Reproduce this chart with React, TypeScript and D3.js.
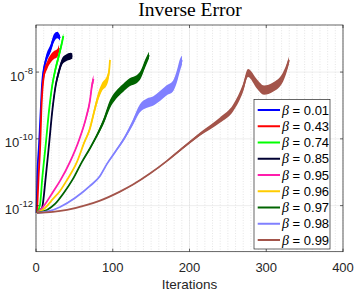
import * as d3 from 'd3';
import React from 'react';

// each point: [iteration, log10(error), half-spread of the noisy band in decades]
const s001 = [[0.7,-12.22,0],[1.7,-11.17,0.03],[3.9,-10.19,0.06],[6.1,-9.17,0.1],[8.2,-8.27,0.12],[12.6,-7.67,0.12],[19.2,-7.28,0.12],[23.5,-6.98,0.12],[27.8,-6.89,0.1],[31.3,-6.98,0.08]];
const s043 = [[1.3,-12.22,0],[3.3,-11.17,0.03],[5.5,-10.19,0.06],[6.9,-9.17,0.1],[10.4,-8.09,0.12],[14.7,-7.79,0.12],[23.5,-7.49,0.12],[27.8,-7.43,0.12],[30,-7.28,0.1]];
const s074 = [[1.3,-12.22,0],[5.2,-11.98,0.01],[8.2,-11.17,0.03],[12.6,-10.19,0.05],[16.9,-9.17,0.08],[21.2,-8.39,0.1],[25.7,-7.88,0.1],[30,-7.49,0.1],[34.3,-7.07,0.1],[35.6,-6.92,0.08]];
const s085 = [[1.3,-12.22,0],[7.8,-12.07,0.01],[12.6,-11.17,0.03],[16.9,-10.19,0.05],[21.2,-9.17,0.08],[25.7,-8.39,0.1],[30,-7.97,0.1],[34.3,-7.67,0.1],[38.7,-7.58,0.1],[45.2,-7.52,0.1],[47.3,-7.52,0.08]];
const s095 = [[1.3,-12.22,0],[9.1,-12.04,0],[22.1,-11.59,0],[31.3,-11.26,0.01],[44.3,-10.69,0.02],[56,-10.04,0.03],[65.1,-9.38,0.06],[70.4,-8.84,0.09],[73,-8.39,0.12],[74.9,-8.21,0.12]];
const s096 = [[1.3,-12.22,0],[11.7,-12.07,0],[22.1,-11.8,0],[31.3,-11.56,0.01],[40.4,-11.23,0.01],[53.4,-10.69,0.02],[62.5,-10.13,0.04],[70.4,-9.68,0.07],[75.6,-9.2,0.1],[80.8,-8.75,0.12],[86,-8.45,0.12],[92.5,-8.24,0.14],[95.1,-8.0,0.14],[96.4,-7.64,0.1]];
const s097 = [[1.3,-12.22,0],[14.3,-12.13,0],[24.8,-11.95,0],[35.2,-11.65,0.01],[48.2,-11.2,0.01],[59.9,-10.69,0.02],[70.4,-10.28,0.03],[80.8,-9.83,0.06],[88.6,-9.44,0.09],[96.4,-8.96,0.12],[104.2,-8.69,0.12],[113.4,-8.48,0.12],[122.5,-8.3,0.12],[131.6,-8.21,0.12],[136.8,-8.06,0.12],[142,-7.76,0.12],[147.2,-7.49,0.1]];
const s098 = [[1.3,-12.22,0],[18.2,-12.16,0],[31.3,-12.04,0],[50.8,-11.77,0.01],[70.4,-11.41,0.01],[83.4,-11.11,0.02],[92.5,-10.75,0.02],[102.9,-10.4,0.03],[115.9,-9.95,0.05],[125.1,-9.56,0.08],[135.5,-9.08,0.12],[144.6,-8.93,0.14],[152.4,-8.87,0.14],[161.5,-8.72,0.15],[170.7,-8.54,0.15],[178.5,-8.42,0.16],[183.7,-8.12,0.18],[187.6,-7.79,0.18],[190.2,-7.64,0.14]];
const s099 = [[1.3,-12.22,0],[22.1,-12.19,0],[40.4,-12.13,0],[66.4,-11.98,0],[83.4,-11.85,0],[109.4,-11.58,0.01],[126.4,-11.37,0.01],[148.5,-11.04,0.015],[170.7,-10.66,0.02],[187.6,-10.34,0.03],[213.7,-9.86,0.05],[239.7,-9.44,0.08],[256.7,-9.08,0.1],[269.7,-8.48,0.12],[276.2,-8.03,0.12],[288,-8.36,0.14],[297.1,-8.54,0.14],[308.8,-8.45,0.14],[321.8,-8.15,0.14],[327,-7.85,0.12],[329.6,-7.64,0.1]];

const series = [s001, s043, s074, s085, s095, s096, s097, s098, s099];
const betas = ['0.01', '0.43', '0.74', '0.85', '0.95', '0.96', '0.97', '0.98', '0.99'];
const colors = ['#0000ff', '#ff0000', '#00ff00', '#000033', '#ff1dac', '#ffcc00', '#006400', '#8080ff', '#a3544a'];

const xTicks = [0, 100, 200, 300, 400];
const xMinor = d3.range(0, 401, 10);
const yTicks = [-12, -10, -8];

const W = 354, H = 293;
const L = 36, R = 343, T = 25, B = 251.7;

export default function App() {
  const x = d3.scaleLinear().domain([0, 400]).range([L, R]);
  const y = d3.scaleLog().domain([Math.pow(10, -13.38), Math.pow(10, -6.59)]).range([B, T]);

  const line = d3.line<number[]>()
    .x(d => x(d[0]))
    .y(d => y(Math.pow(10, d[1])))
    .curve(d3.curveMonotoneX);
  const band = d3.area<number[]>()
    .x(d => x(d[0]))
    .y0(d => y(Math.pow(10, d[1] - d[2])))
    .y1(d => y(Math.pow(10, d[1] + d[2])))
    .curve(d3.curveMonotoneX);

  const axisCol = '#262626';
  const sans = 'Liberation Sans, Arial, sans-serif';

  return (
    <div style={{position: 'fixed', left: 0, top: 0}}>
      <svg width={W} height={H} style={{display: 'block', background: '#fff'}}>
        {/* grid */}
        {xMinor.map(t => (
          <line key={'xm' + t} x1={x(t)} x2={x(t)} y1={T} y2={B}
            stroke="#d4d4d4" strokeWidth={0.6} strokeDasharray="1,1.6" />
        ))}
        {xTicks.map(t => (
          <line key={'xg' + t} x1={x(t)} x2={x(t)} y1={T} y2={B} stroke="#e2e2e2" strokeWidth={0.6} />
        ))}
        {yTicks.map(t => (
          <line key={'yg' + t} x1={L} x2={R} y1={y(Math.pow(10, t))} y2={y(Math.pow(10, t))}
            stroke="#e2e2e2" strokeWidth={0.6} />
        ))}

        {/* data */}
        <g>
          {series.map((s, i) => (
            <g key={betas[i]}>
              <path d={band(s) || ''} fill={colors[i]} stroke="none" />
              <path d={line(s) || ''} fill="none" stroke={colors[i]} strokeWidth={1.8} strokeLinejoin="round" />
            </g>
          ))}
        </g>

        {/* axes box and ticks */}
        <rect x={L} y={T} width={R - L} height={B - T} fill="none" stroke={axisCol} strokeWidth={0.7} />
        {xTicks.map(t => (
          <g key={'xt' + t}>
            <line x1={x(t)} x2={x(t)} y1={B} y2={B - 3} stroke={axisCol} strokeWidth={0.7} />
            <line x1={x(t)} x2={x(t)} y1={T} y2={T + 3} stroke={axisCol} strokeWidth={0.7} />
            <text x={x(t)} y={271.5} textAnchor="middle" fontFamily={sans} fontSize={13} fill={axisCol}>{t}</text>
          </g>
        ))}
        {yTicks.map(t => {
          const yy = y(Math.pow(10, t));
          return (
            <g key={'yt' + t}>
              <line x1={L} x2={L + 3} y1={yy} y2={yy} stroke={axisCol} strokeWidth={0.7} />
              <line x1={R} x2={R - 3} y1={yy} y2={yy} stroke={axisCol} strokeWidth={0.7} />
              <text x={33} y={yy + 8.5} textAnchor="end" fontFamily={sans} fontSize={13} fill={axisCol}>
                10<tspan dy={-7} fontSize={9.5}>{'-' + Math.abs(t)}</tspan>
              </text>
            </g>
          );
        })}

        {/* labels */}
        <text x={190} y={16} textAnchor="middle" fontFamily="Liberation Serif, Times New Roman, serif" fontSize={19.5} fill="#000">Inverse Error</text>
        <text x={189.5} y={289} textAnchor="middle" fontFamily={sans} fontSize={13.5} fill={axisCol}>Iterations</text>

        {/* legend */}
        <rect x={254} y={99.5} width={76} height={149.5} fill="#fff" stroke={axisCol} strokeWidth={0.7} />
        {betas.map((b, i) => {
          const cy = 110 + i * 16.25;
          return (
            <g key={'lg' + b}>
              <line x1={257.7} x2={280} y1={cy} y2={cy} stroke={colors[i]} strokeWidth={2} />
              <text x={282} y={cy + 4.5} fontFamily={sans} fontSize={13} fill="#000">
                <tspan fontFamily="Liberation Serif, serif" fontStyle="italic" fontSize={14}>β</tspan>
                <tspan>{' = ' + b}</tspan>
              </text>
            </g>
          );
        })}
      </svg>
    </div>
  );
}
